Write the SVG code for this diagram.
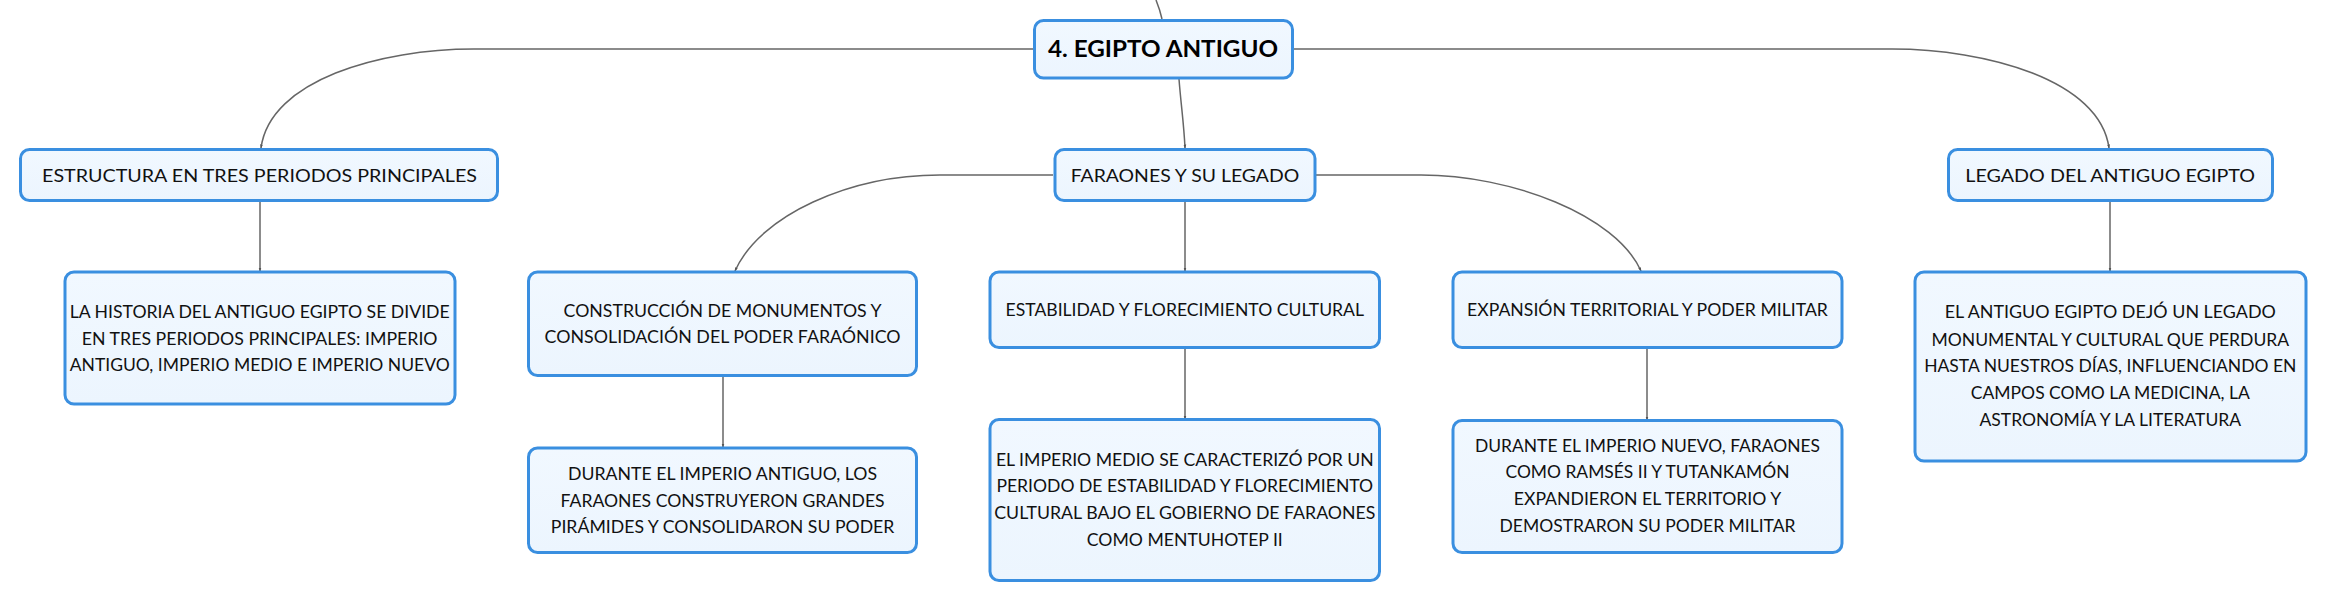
<svg xmlns="http://www.w3.org/2000/svg" width="2327" height="602" viewBox="0 0 2327 602">
<defs>
<linearGradient id="fill" x1="0" y1="0" x2="0" y2="1">
<stop offset="0" stop-color="#F1F8FF"/>
<stop offset="1" stop-color="#ECF5FE"/>
</linearGradient>
<marker id="arr" viewBox="0 0 4 4" refX="3.5" refY="2" markerWidth="4" markerHeight="4" markerUnits="userSpaceOnUse" orient="auto">
<path d="M0,0.6 L4,2 L0,3.4 Z" fill="#555"/>
</marker>
</defs>
<style>
.box{fill:url(#fill);stroke:#3A8FE0;stroke-width:3}
.t{font-family:Lato,"Liberation Sans",sans-serif;font-size:18px;fill:#111;text-anchor:middle}
.b{font-family:Lato,"Liberation Sans",sans-serif;font-size:23px;font-weight:bold;fill:#000;text-anchor:middle}
.c{fill:none;stroke:#666;stroke-width:1.5}
</style>
<rect width="2327" height="602" fill="#FFFFFF"/>
<g id="connectors">
<path class="c" d="M1156,0 Q1160,10 1162,19"/>
<path class="c" d="M1033,49 L474,49 C380,49 270,80 261,148" marker-end="url(#arr)"/>
<path class="c" d="M1179,79 C1181,105 1184,125 1185,148" marker-end="url(#arr)"/>
<path class="c" d="M1294,49 L1892,49 C1986,49 2100,80 2109,148" marker-end="url(#arr)"/>
<path class="c" d="M260,202 L260,271" marker-end="url(#arr)"/>
<path class="c" d="M1053,175 L940,175 C850,175 760,215 735,271" marker-end="url(#arr)"/>
<path class="c" d="M1185,202 L1185,271" marker-end="url(#arr)"/>
<path class="c" d="M1316,175 L1421,175 C1511,175 1616,215 1641,271" marker-end="url(#arr)"/>
<path class="c" d="M723,377 L723,447" marker-end="url(#arr)"/>
<path class="c" d="M1185,349 L1185,419" marker-end="url(#arr)"/>
<path class="c" d="M1647,349 L1647,420" marker-end="url(#arr)"/>
<path class="c" d="M2110,202 L2110,271" marker-end="url(#arr)"/>
</g>
<g id="root">
<rect class="box" x="1034.5" y="20.5" width="258" height="57.5" rx="9"/>
<text class="b" x="1163" y="56.7" textLength="230" lengthAdjust="spacingAndGlyphs">4. EGIPTO ANTIGUO</text>
</g>
<g id="estructura">
<rect class="box" x="20.5" y="149.5" width="477" height="51" rx="9"/>
<text class="t" x="259.5" y="181.7" textLength="435" lengthAdjust="spacingAndGlyphs">ESTRUCTURA EN TRES PERIODOS PRINCIPALES</text>
</g>
<g id="faraones">
<rect class="box" x="1055" y="149.5" width="260" height="51" rx="9"/>
<text class="t" x="1185" y="181.7" textLength="228.6" lengthAdjust="spacingAndGlyphs">FARAONES Y SU LEGADO</text>
</g>
<g id="legado">
<rect class="box" x="1948.5" y="149.5" width="324" height="51" rx="9"/>
<text class="t" x="2110.2" y="181.7" textLength="289.8" lengthAdjust="spacingAndGlyphs">LEGADO DEL ANTIGUO EGIPTO</text>
</g>
<g id="historia">
<rect class="box" x="65" y="272" width="390" height="132" rx="9"/>
<text class="t" x="259.7" y="317.7" textLength="380" lengthAdjust="spacingAndGlyphs">LA HISTORIA DEL ANTIGUO EGIPTO SE DIVIDE</text>
<text class="t" x="259.7" y="344.5" textLength="355.7" lengthAdjust="spacingAndGlyphs">EN TRES PERIODOS PRINCIPALES: IMPERIO</text>
<text class="t" x="259.7" y="371.3" textLength="380" lengthAdjust="spacingAndGlyphs">ANTIGUO, IMPERIO MEDIO E IMPERIO NUEVO</text>
</g>
<g id="construccion">
<rect class="box" x="528.5" y="272" width="388" height="103.5" rx="9"/>
<text class="t" x="722.6" y="316.7" textLength="318" lengthAdjust="spacingAndGlyphs">CONSTRUCCIÓN DE MONUMENTOS Y</text>
<text class="t" x="722.6" y="343.3" textLength="356" lengthAdjust="spacingAndGlyphs">CONSOLIDACIÓN DEL PODER FARAÓNICO</text>
</g>
<g id="antiguo">
<rect class="box" x="528.5" y="448" width="388" height="104.5" rx="9"/>
<text class="t" x="722.6" y="480" textLength="309" lengthAdjust="spacingAndGlyphs">DURANTE EL IMPERIO ANTIGUO, LOS</text>
<text class="t" x="722.6" y="506.7" textLength="324" lengthAdjust="spacingAndGlyphs">FARAONES CONSTRUYERON GRANDES</text>
<text class="t" x="722.6" y="533.3" textLength="343.6" lengthAdjust="spacingAndGlyphs">PIRÁMIDES Y CONSOLIDARON SU PODER</text>
</g>
<g id="estabilidad">
<rect class="box" x="990" y="272" width="389.5" height="75.5" rx="9"/>
<text class="t" x="1184.8" y="315.7" textLength="358.5" lengthAdjust="spacingAndGlyphs">ESTABILIDAD Y FLORECIMIENTO CULTURAL</text>
</g>
<g id="medio">
<rect class="box" x="990" y="419.5" width="389.5" height="161" rx="9"/>
<text class="t" x="1184.8" y="465.7" textLength="377.8" lengthAdjust="spacingAndGlyphs">EL IMPERIO MEDIO SE CARACTERIZÓ POR UN</text>
<text class="t" x="1184.8" y="492.3" textLength="376.7" lengthAdjust="spacingAndGlyphs">PERIODO DE ESTABILIDAD Y FLORECIMIENTO</text>
<text class="t" x="1184.8" y="519.3" textLength="381" lengthAdjust="spacingAndGlyphs">CULTURAL BAJO EL GOBIERNO DE FARAONES</text>
<text class="t" x="1184.8" y="546" textLength="196" lengthAdjust="spacingAndGlyphs">COMO MENTUHOTEP II</text>
</g>
<g id="expansion">
<rect class="box" x="1453" y="272" width="389" height="75.5" rx="9"/>
<text class="t" x="1647.5" y="315.7" textLength="360.8" lengthAdjust="spacingAndGlyphs">EXPANSIÓN TERRITORIAL Y PODER MILITAR</text>
</g>
<g id="nuevo">
<rect class="box" x="1453" y="420.5" width="389" height="132" rx="9"/>
<text class="t" x="1647.5" y="451.7" textLength="345" lengthAdjust="spacingAndGlyphs">DURANTE EL IMPERIO NUEVO, FARAONES</text>
<text class="t" x="1647.5" y="478.3" textLength="284" lengthAdjust="spacingAndGlyphs">COMO RAMSÉS II Y TUTANKAMÓN</text>
<text class="t" x="1647.5" y="505" textLength="267.5" lengthAdjust="spacingAndGlyphs">EXPANDIERON EL TERRITORIO Y</text>
<text class="t" x="1647.5" y="532.3" textLength="296" lengthAdjust="spacingAndGlyphs">DEMOSTRARON SU PODER MILITAR</text>
</g>
<g id="legado-detalle">
<rect class="box" x="1915" y="272" width="391" height="189" rx="9"/>
<text class="t" x="2110.3" y="318.3" textLength="331" lengthAdjust="spacingAndGlyphs">EL ANTIGUO EGIPTO DEJÓ UN LEGADO</text>
<text class="t" x="2110.3" y="345.7" textLength="357.7" lengthAdjust="spacingAndGlyphs">MONUMENTAL Y CULTURAL QUE PERDURA</text>
<text class="t" x="2110.3" y="372.3" textLength="372.3" lengthAdjust="spacingAndGlyphs">HASTA NUESTROS DÍAS, INFLUENCIANDO EN</text>
<text class="t" x="2110.3" y="399" textLength="279" lengthAdjust="spacingAndGlyphs">CAMPOS COMO LA MEDICINA, LA</text>
<text class="t" x="2110.3" y="426" textLength="261.7" lengthAdjust="spacingAndGlyphs">ASTRONOMÍA Y LA LITERATURA</text>
</g>
</svg>
